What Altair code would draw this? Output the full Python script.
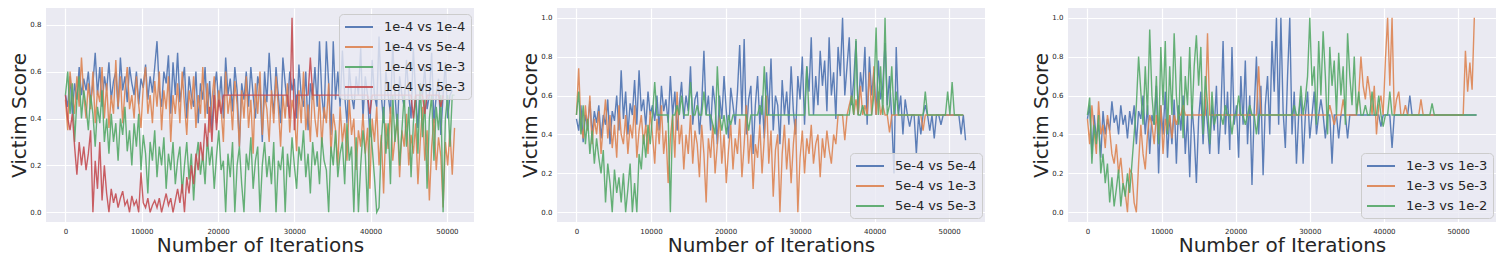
import altair as alt
import pandas as pd

STEP = 300  # iterations between logged points

# ---------------- Panel 1 ----------------
p1_labels = ["1e-4 vs 1e-4", "1e-4 vs 5e-4", "1e-4 vs 1e-3", "1e-4 vs 5e-3"]
p1_blue = [
    0.50, 0.45, 0.58, 0.42, 0.55, 0.48, 0.62, 0.50, 0.57, 0.52,
    0.60, 0.47, 0.55, 0.68, 0.50, 0.62, 0.45, 0.58, 0.52, 0.64,
    0.48, 0.56, 0.60, 0.44, 0.66, 0.52, 0.58, 0.47, 0.62, 0.55,
    0.50, 0.60, 0.46, 0.57, 0.53, 0.63, 0.48, 0.58, 0.51, 0.62,
    0.73, 0.52, 0.45, 0.60, 0.55, 0.67, 0.42, 0.64, 0.50, 0.68,
    0.47, 0.55, 0.62, 0.40, 0.58, 0.50, 0.45, 0.60, 0.38, 0.55,
    0.48, 0.62, 0.42, 0.56, 0.35, 0.52, 0.60, 0.45, 0.58, 0.40,
    0.66, 0.50, 0.57, 0.43, 0.62, 0.52, 0.28, 0.55, 0.48, 0.60,
    0.45, 0.62, 0.50, 0.40, 0.58, 0.53, 0.30, 0.60, 0.47, 0.68,
    0.52, 0.42, 0.62, 0.50, 0.38, 0.66, 0.55, 0.45, 0.60, 0.52,
    0.57, 0.40, 0.63, 0.50, 0.45, 0.60, 0.35, 0.55, 0.48, 0.62,
    0.45, 0.73, 0.50, 0.40, 0.73, 0.55, 0.33, 0.73, 0.48, 0.60,
    0.45, 0.69, 0.50, 0.38, 0.62, 0.50, 0.44, 0.58, 0.50, 0.70,
    0.40, 0.58, 0.50, 0.32, 0.65, 0.50, 0.45, 0.75, 0.50, 0.38,
    0.60, 0.50, 0.42, 0.72, 0.50, 0.35, 0.58, 0.50, 0.45, 0.65,
    0.50, 0.40, 0.70, 0.50, 0.36, 0.55, 0.50, 0.62, 0.44, 0.50,
    0.68, 0.38, 0.50, 0.57, 0.33, 0.50, 0.64, 0.40, 0.50, 0.52,
]
p1_orange = [
    0.48, 0.35, 0.60, 0.50, 0.42, 0.58, 0.45, 0.66, 0.50, 0.40,
    0.55, 0.44, 0.60, 0.38, 0.52, 0.47, 0.62, 0.40, 0.55, 0.36,
    0.50, 0.42, 0.65, 0.45, 0.58, 0.38, 0.52, 0.62, 0.44, 0.50,
    0.40, 0.58, 0.46, 0.36, 0.54, 0.62, 0.42, 0.50, 0.38, 0.56,
    0.45, 0.60, 0.35, 0.52, 0.44, 0.58, 0.30, 0.50, 0.42, 0.55,
    0.38, 0.60, 0.46, 0.33, 0.52, 0.44, 0.58, 0.36, 0.50, 0.42,
    0.62, 0.40, 0.55, 0.34, 0.48, 0.58, 0.38, 0.52, 0.44, 0.30,
    0.60, 0.42, 0.50, 0.35, 0.56, 0.46, 0.28, 0.52, 0.40, 0.58,
    0.36, 0.48, 0.25, 0.55, 0.42, 0.60, 0.33, 0.50, 0.44, 0.30,
    0.52, 0.38, 0.58, 0.45, 0.28, 0.50, 0.40, 0.55, 0.34, 0.48,
    0.42, 0.26, 0.52, 0.38, 0.60, 0.35, 0.46, 0.30, 0.55, 0.40,
    0.32, 0.50, 0.28, 0.45, 0.38, 0.55, 0.25, 0.42, 0.35, 0.20,
    0.45, 0.30, 0.38, 0.22, 0.48, 0.33, 0.40, 0.18, 0.35, 0.28,
    0.42, 0.25, 0.36, 0.10, 0.40, 0.30, 0.45, 0.20, 0.33, 0.08,
    0.38, 0.27, 0.45, 0.22, 0.32, 0.40, 0.15, 0.35, 0.28, 0.42,
    0.20, 0.33, 0.25, 0.38, 0.12, 0.30, 0.45, 0.22, 0.35, 0.05,
    0.28, 0.40, 0.18, 0.32, 0.24, 0.02, 0.30, 0.20, 0.35, 0.16,
    0.36,
]
p1_green = [
    0.50, 0.60, 0.42, 0.55, 0.30, 0.48, 0.58, 0.40, 0.52, 0.45,
    0.35, 0.50, 0.42, 0.28, 0.45, 0.38, 0.52, 0.30, 0.40, 0.25,
    0.42, 0.30, 0.38, 0.22, 0.40, 0.33, 0.45, 0.26, 0.35, 0.20,
    0.38, 0.28, 0.42, 0.18, 0.33, 0.25, 0.08, 0.30, 0.22, 0.35,
    0.15, 0.28, 0.20, 0.32, 0.10, 0.25, 0.18, 0.30, 0.12, 0.22,
    0.28, 0.08, 0.20, 0.30, 0.14, 0.25, 0.05, 0.22, 0.30, 0.16,
    0.25, 0.12, 0.32, 0.20, 0.28, 0.10, 0.24, 0.35, 0.18, 0.22,
    0.00, 0.25, 0.15, 0.30, 0.00, 0.20, 0.28, 0.12, 0.00, 0.25,
    0.18, 0.32, 0.10, 0.22, 0.28, 0.00, 0.20, 0.30, 0.15, 0.24,
    0.12, 0.30, 0.00, 0.22, 0.18, 0.28, 0.00, 0.25, 0.15, 0.32,
    0.20, 0.10, 0.28, 0.22, 0.35, 0.15, 0.25, 0.08, 0.30, 0.20,
    0.26, 0.12, 0.32, 0.22, 0.18, 0.00, 0.28, 0.20, 0.35, 0.15,
    0.25, 0.30, 0.12, 0.38, 0.22, 0.28, 0.00, 0.32, 0.00, 0.20,
    0.35, 0.25, 0.00, 0.40, 0.28, 0.15, 0.00, 0.02, 0.30, 0.45,
    0.25, 0.38, 0.12, 0.50, 0.30, 0.42, 0.20, 0.35, 0.50, 0.28,
    0.45, 0.15, 0.38, 0.50, 0.25, 0.55, 0.32, 0.48, 0.10, 0.40,
    0.50, 0.22, 0.45, 0.35, 0.50, 0.00, 0.40, 0.50, 0.28, 0.50,
    0.50,
]
p1_red = [
    0.50, 0.40, 0.35, 0.42, 0.28, 0.16, 0.30, 0.20, 0.28, 0.18,
    0.25, 0.35, 0.00, 0.22, 0.10, 0.30, 0.05, 0.20, 0.08, 0.00,
    0.10, 0.04, 0.08, 0.02, 0.06, 0.09, 0.03, 0.05, 0.00, 0.07,
    0.03, 0.05, 0.00, 0.17, 0.04, 0.02, 0.06, 0.00, 0.03, 0.05,
    0.02, 0.06, 0.00, 0.04, 0.08, 0.03, 0.06, 0.00, 0.05, 0.10,
    0.04, 0.12, 0.00, 0.15, 0.08, 0.20, 0.12, 0.25, 0.18, 0.30,
    0.22, 0.38, 0.28, 0.45, 0.30, 0.50, 0.35, 0.48, 0.42, 0.50,
    0.50, 0.50, 0.50, 0.50, 0.50, 0.50, 0.50, 0.50, 0.50, 0.50,
    0.50, 0.50, 0.50, 0.50, 0.50, 0.50, 0.50, 0.50, 0.50, 0.50,
    0.50, 0.50, 0.50, 0.50, 0.50, 0.50, 0.50, 0.50, 0.40, 0.83,
    0.35, 0.50, 0.50, 0.50, 0.50, 0.50, 0.50, 0.66, 0.50, 0.50,
    0.50, 0.50, 0.50, 0.50, 0.50, 0.50, 0.50, 0.50, 0.50, 0.50,
    0.50, 0.50, 0.50, 0.50, 0.50, 0.50, 0.50, 0.50, 0.50, 0.50,
    0.50, 0.50, 0.50, 0.42, 0.50, 0.50, 0.50, 0.50, 0.50, 0.50,
    0.50, 0.50, 0.50, 0.50, 0.50, 0.50, 0.50, 0.50, 0.50, 0.50,
    0.50, 0.50, 0.40, 0.50, 0.50, 0.50, 0.50, 0.42, 0.50, 0.50,
    0.50, 0.50, 0.50, 0.50, 0.45, 0.50,
]

# ---------------- Panel 2 ----------------
p2_labels = ["5e-4 vs 5e-4", "5e-4 vs 1e-3", "5e-4 vs 5e-3"]
p2_blue = [
    0.48, 0.42, 0.55, 0.36, 0.50, 0.44, 0.57, 0.40, 0.52, 0.46,
    0.55, 0.38, 0.50, 0.45, 0.58, 0.35, 0.52, 0.47, 0.60, 0.42,
    0.73, 0.48, 0.62, 0.40, 0.56, 0.50, 0.68, 0.45, 0.73, 0.52,
    0.58, 0.44, 0.62, 0.50, 0.55, 0.47, 0.60, 0.42, 0.65, 0.52,
    0.58, 0.46, 0.70, 0.50, 0.62, 0.42, 0.55, 0.67, 0.48, 0.60,
    0.52, 0.75, 0.45, 0.58, 0.62, 0.40, 0.55, 0.83, 0.50, 0.60,
    0.42, 0.65, 0.55, 0.35, 0.60, 0.48, 0.70, 0.52, 0.38, 0.64,
    0.55, 0.45, 0.62, 0.86, 0.50, 0.89, 0.40, 0.58, 0.65, 0.30,
    0.55, 0.70, 0.45, 0.60, 0.38, 0.72, 0.50, 0.79, 0.42, 0.60,
    0.55, 0.35, 0.68, 0.50, 0.62, 0.45, 0.75, 0.52, 0.40, 0.70,
    0.58, 0.80, 0.45, 0.75, 0.62, 0.90, 0.50, 0.70, 0.55, 0.83,
    0.65, 0.78, 0.52, 0.90, 0.60, 0.72, 0.48, 0.85, 0.70, 1.00,
    0.60, 0.75, 0.90, 0.55, 0.68, 0.88, 0.50, 0.72, 0.62, 0.85,
    0.45, 0.80, 0.60, 0.72, 0.50, 0.78, 0.58, 0.65, 0.87, 0.55,
    0.70, 0.48, 0.20, 0.85, 0.50, 0.60, 0.40, 0.58, 0.50, 0.44,
    0.50, 0.50, 0.30, 0.50, 0.40, 0.50, 0.55, 0.50, 0.42, 0.50,
    0.38, 0.50, 0.50, 0.45, 0.50, 0.50, 0.50, 0.50, 0.50, 0.50,
    0.50, 0.50, 0.40, 0.50, 0.37,
]
p2_orange = [
    0.50, 0.74, 0.45, 0.38, 0.55, 0.42, 0.60, 0.35, 0.48, 0.40,
    0.52, 0.30, 0.45, 0.58, 0.38, 0.50, 0.33, 0.45, 0.28, 0.55,
    0.40, 0.35, 0.50, 0.30, 0.45, 0.38, 0.55, 0.28, 0.42, 0.50,
    0.35, 0.45, 0.30, 0.52, 0.40, 0.25, 0.48, 0.35, 0.55, 0.30,
    0.42, 0.15, 0.38, 0.50, 0.28, 0.62, 0.35, 0.45, 0.22, 0.40,
    0.30, 0.50, 0.25, 0.42, 0.35, 0.18, 0.45, 0.30, 0.05, 0.38,
    0.28, 0.45, 0.20, 0.35, 0.50, 0.25, 0.40, 0.15, 0.32, 0.45,
    0.22, 0.38, 0.30, 0.48, 0.18, 0.35, 0.55, 0.25, 0.40, 0.12,
    0.35, 0.28, 0.45, 0.20, 0.38, 0.60, 0.25, 0.42, 0.08, 0.32,
    0.40, 0.00, 0.30, 0.45, 0.22, 0.38, 0.15, 0.35, 0.48, 0.00,
    0.28, 0.42, 0.20, 0.38, 0.30, 0.45, 0.25, 0.35, 0.40, 0.18,
    0.38, 0.28, 0.42, 0.32, 0.25, 0.40, 0.35, 0.50, 0.50, 0.50,
    0.37, 0.50, 0.55, 0.60, 0.50, 0.58, 0.50, 0.65, 0.50, 0.55,
    0.50, 0.72, 0.50, 0.75, 0.50, 0.62, 0.50, 0.55, 0.50, 0.50,
    0.41, 0.50, 0.50, 0.50, 0.50, 0.50, 0.50, 0.50, 0.50, 0.50,
    0.50, 0.50, 0.50, 0.50, 0.50, 0.42, 0.50, 0.50, 0.50, 0.50,
    0.50, 0.50, 0.50, 0.50, 0.50, 0.50, 0.50, 0.50, 0.50, 0.50,
    0.50, 0.50, 0.50, 0.50,
]
p2_green = [
    0.50, 0.62, 0.40, 0.55, 0.35, 0.48, 0.30, 0.42, 0.25, 0.38,
    0.28, 0.20, 0.32, 0.05, 0.25, 0.15, 0.00, 0.22, 0.10, 0.18,
    0.05, 0.20, 0.00, 0.12, 0.25, 0.00, 0.15, 0.00, 0.30, 0.22,
    0.40, 0.28, 0.45, 0.35, 0.50, 0.67, 0.50, 0.50, 0.50, 0.50,
    0.50, 0.50, 0.00, 0.50, 0.50, 0.55, 0.50, 0.60, 0.50, 0.50,
    0.50, 0.67, 0.50, 0.50, 0.55, 0.50, 0.50, 0.62, 0.50, 0.50,
    0.50, 0.45, 0.40, 0.75, 0.50, 0.42, 0.50, 0.40, 0.50, 0.45,
    0.50, 0.50, 0.50, 0.50, 0.50, 0.50, 0.50, 0.42, 0.50, 0.50,
    0.50, 0.50, 0.55, 0.50, 0.75, 0.50, 0.50, 0.50, 0.50, 0.50,
    0.50, 0.50, 0.50, 0.50, 0.50, 0.50, 0.50, 0.50, 0.50, 0.50,
    0.50, 0.50, 0.50, 0.75, 0.50, 0.50, 0.50, 0.50, 0.50, 0.50,
    0.50, 0.50, 0.50, 0.50, 0.50, 0.50, 0.50, 0.50, 0.50, 0.50,
    0.50, 0.50, 0.50, 0.60, 0.50, 0.89, 0.50, 0.50, 0.55, 0.50,
    0.50, 0.50, 0.50, 0.60, 0.95, 0.50, 0.75, 0.50, 1.00, 0.50,
    0.55, 0.75, 0.50, 0.62, 0.50, 0.50, 0.50, 0.50, 0.50, 0.50,
    0.50, 0.50, 0.50, 0.50, 0.50, 0.50, 0.62, 0.50, 0.50, 0.50,
    0.50, 0.50, 0.50, 0.50, 0.50, 0.50, 0.62, 0.50, 0.67, 0.50,
    0.50, 0.50, 0.50, 0.50,
]

# ---------------- Panel 3 ----------------
p3_labels = ["1e-3 vs 1e-3", "1e-3 vs 5e-3", "1e-3 vs 1e-2"]
p3_blue = [
    0.48, 0.55, 0.30, 0.50, 0.38, 0.45, 0.28, 0.52, 0.40, 0.48,
    0.42, 0.57, 0.46, 0.50, 0.40, 0.55, 0.45, 0.50, 0.38, 0.52,
    0.45, 0.55, 0.35, 0.52, 0.48, 0.60, 0.40, 0.55, 0.30, 0.50,
    0.45, 0.65, 0.20, 0.55, 0.40, 0.62, 0.28, 0.50, 0.35, 0.58,
    0.25, 0.55, 0.42, 0.60, 0.30, 0.50, 0.18, 0.55, 0.40, 0.15,
    0.48, 0.62, 0.35, 0.58, 0.45, 0.30, 0.55, 0.42, 0.65, 0.30,
    0.50, 0.88, 0.40, 0.62, 0.32, 0.85, 0.45, 0.55, 0.28, 0.70,
    0.45, 0.78, 0.35, 0.60, 0.14, 0.52, 0.80, 0.40, 0.65, 0.19,
    0.55, 0.70, 0.40, 0.88, 0.62, 1.00, 0.45, 1.00, 0.52, 0.33,
    0.70, 1.00, 0.40, 0.62, 0.25, 0.50, 0.60, 0.25, 0.50, 0.62,
    0.38, 0.50, 0.62, 0.40, 0.50, 0.58, 0.50, 0.38, 0.50, 0.50,
    0.25, 0.50, 0.50, 0.38, 0.50, 0.50, 0.50, 0.38, 0.50, 0.50,
    0.50, 0.50, 0.50, 0.50, 0.50, 0.50, 0.50, 0.50, 0.50, 0.50,
    0.50, 0.50, 0.44, 0.50, 0.50, 0.50, 0.50, 0.33, 0.50, 0.50,
    0.50, 0.50, 0.50, 0.50, 0.50, 0.60, 0.50, 0.50, 0.50, 0.50,
    0.50, 0.50, 0.50, 0.50, 0.50, 0.50, 0.50, 0.50, 0.50, 0.50,
    0.50, 0.50, 0.50, 0.50, 0.50, 0.50, 0.50, 0.50, 0.50, 0.50,
    0.50, 0.50, 0.50, 0.50, 0.50, 0.50,
]
p3_orange = [
    0.48, 0.35, 0.55, 0.42, 0.30, 0.57, 0.40, 0.45, 0.33, 0.50,
    0.42, 0.30, 0.25, 0.35, 0.20, 0.28, 0.15, 0.10, 0.00, 0.22,
    0.20, 0.05, 0.00, 0.25, 0.45, 0.30, 0.22, 0.40, 0.50, 0.45,
    0.35, 0.50, 0.40, 0.55, 0.30, 0.48, 0.42, 0.50, 0.38, 0.50,
    0.45, 0.50, 0.50, 0.55, 0.50, 0.50, 0.50, 0.50, 0.50, 0.50,
    0.50, 0.50, 0.50, 0.50, 0.92, 0.50, 0.50, 0.50, 0.50, 0.50,
    0.50, 0.50, 0.50, 0.50, 0.50, 0.50, 0.50, 0.50, 0.50, 0.50,
    0.50, 0.50, 0.50, 0.50, 0.50, 0.50, 0.50, 0.75, 0.50, 0.50,
    0.50, 0.50, 0.50, 0.50, 0.50, 0.50, 0.50, 0.50, 0.50, 0.50,
    0.50, 0.50, 0.50, 0.50, 0.50, 0.50, 0.50, 0.50, 0.50, 0.50,
    0.50, 0.50, 0.50, 0.50, 0.50, 0.50, 0.50, 0.50, 0.50, 0.55,
    0.50, 0.45, 0.50, 0.50, 0.50, 0.58, 0.50, 0.50, 0.50, 0.50,
    0.50, 0.50, 0.60, 0.80, 0.65, 0.58, 0.70, 0.62, 0.50, 0.65,
    0.40, 0.55, 0.60, 0.50, 0.78, 1.00, 0.65, 1.00, 0.50, 0.58,
    0.62, 0.50, 0.50, 0.55, 0.50, 0.50, 0.50, 0.50, 0.50, 0.50,
    0.58, 0.50, 0.50, 0.50, 0.50, 0.50, 0.50, 0.50, 0.50, 0.50,
    0.50, 0.50, 0.50, 0.50, 0.50, 0.50, 0.50, 0.50, 0.50, 0.50,
    0.83, 0.62, 0.77, 0.63, 1.00,
]
p3_green = [
    0.50, 0.59, 0.25, 0.45, 0.35, 0.50, 0.20, 0.30, 0.15, 0.25,
    0.05, 0.18, 0.03, 0.12, 0.22, 0.03, 0.15, 0.08, 0.20, 0.10,
    0.25, 0.40, 0.55, 0.80, 0.62, 0.45, 0.75, 0.50, 0.94, 0.60,
    0.45, 0.70, 0.35, 0.85, 0.55, 0.88, 0.40, 0.75, 0.50, 0.92,
    0.60, 0.45, 0.80, 0.38, 0.70, 0.55, 0.85, 0.48, 0.75, 0.91,
    0.65, 0.85, 0.40, 0.70, 0.55, 0.35, 0.62, 0.45, 0.50, 0.50,
    0.50, 0.45, 0.55, 0.50, 0.50, 0.40, 0.50, 0.50, 0.60, 0.50,
    0.50, 0.45, 0.50, 0.55, 0.50, 0.50, 0.40, 0.50, 0.50, 0.50,
    0.50, 0.50, 0.50, 0.50, 0.50, 0.50, 0.50, 0.50, 0.50, 0.50,
    0.50, 0.50, 0.50, 0.55, 0.50, 0.50, 0.65, 0.50, 0.58, 0.70,
    1.00, 0.65, 0.75, 0.45, 0.88, 0.60, 0.93, 0.70, 0.40, 0.85,
    0.65, 0.78, 0.50, 0.82, 0.60, 0.75, 0.45, 0.92, 0.70, 0.55,
    0.80, 0.50, 0.62, 0.50, 0.50, 0.55, 0.50, 0.50, 0.62, 0.50,
    0.50, 0.60, 0.50, 0.44, 0.50, 0.50, 0.62, 0.50, 0.50, 0.50,
    0.50, 0.50, 0.50, 0.50, 0.50, 0.50, 0.50, 0.50, 0.50, 0.50,
    0.50, 0.50, 0.50, 0.50, 0.50, 0.56, 0.50, 0.50, 0.50, 0.50,
    0.50, 0.50, 0.50, 0.50, 0.50, 0.50, 0.50, 0.50, 0.50, 0.50,
    0.50, 0.50, 0.50, 0.50, 0.50, 0.50,
]

COLORS = ["#4C72B0", "#DD8452", "#55A868", "#C44E52"]
X_TICKS = [0, 10000, 20000, 30000, 40000, 50000]
FONT = "DejaVu Sans"
TEXT = "#262626"

PW, PH = 428, 214
LEG_W = 129


def build_df(series, labels):
    rows = []
    for lab, vals in zip(labels, series):
        for i, v in enumerate(vals):
            rows.append({"it": i * STEP, "score": v, "run": lab})
    return pd.DataFrame(rows)


def panel(series, labels, y_ticks, legend_top):
    df = build_df(series, labels)
    xmax = df["it"].max()
    xpad = 0.05 * xmax
    ymax = df["score"].max()
    ypad = 0.05 * ymax
    n = len(labels)
    leg_h = 5 + n * 14 + (n - 1) * 5 + 5
    legend = alt.Legend(
        title=None, orient="none",
        legendX=PW - 6 - LEG_W,
        legendY=6 if legend_top else PH - 7 - leg_h,
        symbolType="M-1,0L3,0", symbolSize=196, symbolStrokeWidth=2,
        labelOffset=24, labelFont=FONT, labelFontSize=13, labelColor=TEXT,
        fillColor="rgba(234,234,242,0.8)", strokeColor="#cccccc",
        cornerRadius=4, padding=5, rowPadding=5,
    )
    colors = COLORS[:n]
    base = alt.Chart(df).mark_line(strokeWidth=1.4, opacity=0.9).encode(
        x=alt.X("it:Q", scale=alt.Scale(domain=[-xpad, xmax + xpad], nice=False, zero=False),
                axis=alt.Axis(values=X_TICKS, format="d", title="Number of Iterations")),
        y=alt.Y("score:Q", scale=alt.Scale(domain=[-ypad, ymax + ypad], nice=False, zero=False),
                axis=alt.Axis(values=y_ticks, format=".1f", title="Victim Score")),
        color=alt.Color("run:N", scale=alt.Scale(domain=labels, range=colors), legend=legend),
    )
    layers = [base.transform_filter(alt.datum.run == lab) for lab in labels]
    return alt.layer(*layers).properties(width=PW, height=PH)


c1 = panel([p1_blue, p1_orange, p1_green, p1_red], p1_labels, [0, 0.2, 0.4, 0.6, 0.8], True)
c2 = panel([p2_blue, p2_orange, p2_green], p2_labels, [0, 0.2, 0.4, 0.6, 0.8, 1.0], False)
c3 = panel([p3_blue, p3_orange, p3_green], p3_labels, [0, 0.2, 0.4, 0.6, 0.8, 1.0], False)

chart = (
    alt.hconcat(c1, c2, c3, spacing=46)
    .resolve_scale(color="independent")
    .resolve_legend(color="independent")
    .properties(padding={"left": 1, "top": 0, "right": 0, "bottom": 0}, background="white")
    .configure_view(fill="#EAEAF2", stroke=None)
    .configure_axis(
        domain=False, ticks=False, grid=True, gridColor="white", gridWidth=1.2,
        labelFont=FONT, labelFontSize=7, labelColor=TEXT, labelFlush=False,
        titleFont=FONT, titleFontSize=20, titleFontWeight="normal", titleColor=TEXT,
    )
    .configure_axisX(labelPadding=5, titlePadding=1)
    .configure_axisY(labelPadding=5, titlePadding=0)
)

chart.save("out.html", embed_options={"renderer": "svg", "actions": False})
